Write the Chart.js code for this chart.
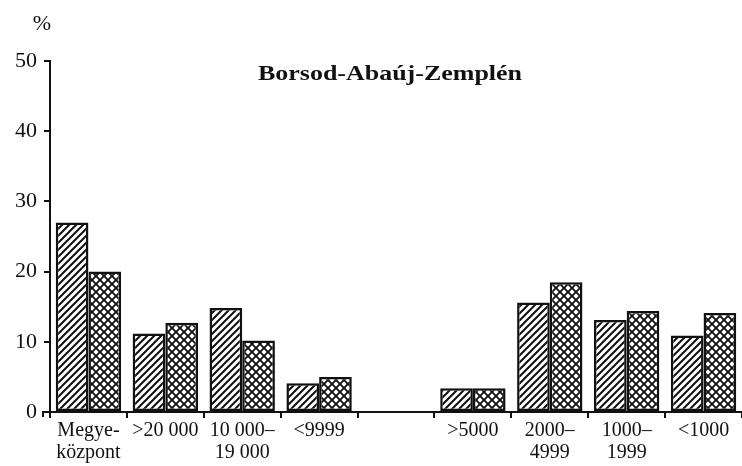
<!DOCTYPE html>
<html>
<head>
<meta charset="utf-8">
<script src="https://cdn.jsdelivr.net/npm/chart.js@4/dist/chart.umd.min.js"></script>
<style>
html,body{margin:0;padding:0;background:#fff;}
#wrap{width:742px;height:466px;position:relative;}
</style>
</head>
<body>
<div id="wrap"><canvas id="c" width="742" height="466"></canvas></div>
<script>
const categories = [["Megye-","központ"], ">20 000", ["10 000–","19 000"], "<9999", "", ">5000", ["2000–","4999"], ["1000–","1999"], "<1000"];
const seriesHatched = [27.0, 11.2, 14.8, 4.1, null, 3.4, 15.6, 13.1, 10.9];
const seriesCross = [20.0, 12.7, 10.2, 5.0, null, 3.4, 18.5, 14.4, 14.1];
const yTicks = [0, 10, 20, 30, 40, 50];
const chartTitle = "Borsod-Abaúj-Zemplén";
const unitLabel = "%";

const FONT = "'Liberation Serif', 'DejaVu Serif', serif";

function hatchPattern() {
  const s = 7;
  const c = document.createElement('canvas');
  c.width = s; c.height = s;
  const g = c.getContext('2d');
  g.fillStyle = '#fff'; g.fillRect(0, 0, s, s);
  g.strokeStyle = '#111'; g.lineWidth = 2.0;
  g.beginPath();
  g.moveTo(-1, s + 1); g.lineTo(s + 1, -1);
  g.moveTo(-2, 2); g.lineTo(2, -2);
  g.moveTo(s - 2, s + 2); g.lineTo(s + 2, s - 2);
  g.stroke();
  return g.createPattern(c, 'repeat');
}
function crossPattern() {
  const s = 8, r = 2.7;
  const c = document.createElement('canvas');
  c.width = s; c.height = s;
  const g = c.getContext('2d');
  g.fillStyle = '#111'; g.fillRect(0, 0, s, s);
  g.fillStyle = '#fff';
  const centers = [[s / 2, s / 2], [0, 0], [s, 0], [0, s], [s, s]];
  for (const [cx, cy] of centers) {
    g.beginPath();
    g.moveTo(cx, cy - r); g.lineTo(cx + r, cy); g.lineTo(cx, cy + r); g.lineTo(cx - r, cy);
    g.closePath(); g.fill();
  }
  return g.createPattern(c, 'repeat');
}

const textPlugin = {
  id: 'texts',
  afterDraw(chart) {
    const ctx = chart.ctx;
    const a = chart.chartArea;
    ctx.save();
    ctx.fillStyle = '#111';
    ctx.textAlign = 'left';
    ctx.textBaseline = 'alphabetic';
    ctx.font = "bold 22px " + FONT;
    const w = ctx.measureText(chartTitle).width;
    const targetW = 264;
    ctx.save();
    ctx.translate(390 - targetW / 2, 80);
    ctx.scale(targetW / w, 1);
    ctx.fillText(chartTitle, 0, 0);
    ctx.restore();
    ctx.font = "22px " + FONT;
    ctx.textAlign = 'center';
    ctx.fillText(unitLabel, 42, 30);
    ctx.strokeStyle = '#111';
    ctx.lineWidth = 2;
    ctx.beginPath();
    ctx.moveTo(42, a.bottom);
    ctx.lineTo(a.left, a.bottom);
    ctx.moveTo(43, a.bottom);
    ctx.lineTo(43, a.bottom + 5);
    ctx.stroke();
    ctx.restore();
  }
};

new Chart(document.getElementById('c'), {
  type: 'bar',
  data: {
    labels: categories,
    datasets: [
      { data: seriesHatched, backgroundColor: hatchPattern(), borderColor: '#111', borderWidth: 2.5, borderSkipped: false },
      { data: seriesCross, backgroundColor: crossPattern(), borderColor: '#111', borderWidth: 2.5, borderSkipped: false }
    ]
  },
  options: {
    responsive: false,
    animation: false,
    devicePixelRatio: 1,
    layout: { padding: { top: 61, left: 8, right: 0, bottom: 0 } },
    datasets: { bar: { categoryPercentage: 0.85, barPercentage: 1.0 } },
    plugins: { legend: { display: false }, title: { display: false }, tooltip: { enabled: false } },
    scales: {
      x: {
        grid: { display: true, drawOnChartArea: false, drawTicks: true, tickLength: 6, color: '#111', lineWidth: 2, offset: true },
        border: { display: true, color: '#111', width: 2 },
        ticks: { color: '#111', font: { family: FONT, size: 20, lineHeight: 1.1 }, padding: 2, maxRotation: 0, autoSkip: false }
      },
      y: {
        min: 0, max: 50,
        afterBuildTicks(axis) { axis.ticks = yTicks.map(v => ({ value: v })); },
        grid: { display: true, drawOnChartArea: false, drawTicks: true, tickLength: 6, color: '#111', lineWidth: 2 },
        border: { display: true, color: '#111', width: 2 },
        ticks: { color: '#111', font: { family: FONT, size: 22 }, padding: 7 }
      }
    }
  },
  plugins: [textPlugin]
});
</script>
</body>
</html>
